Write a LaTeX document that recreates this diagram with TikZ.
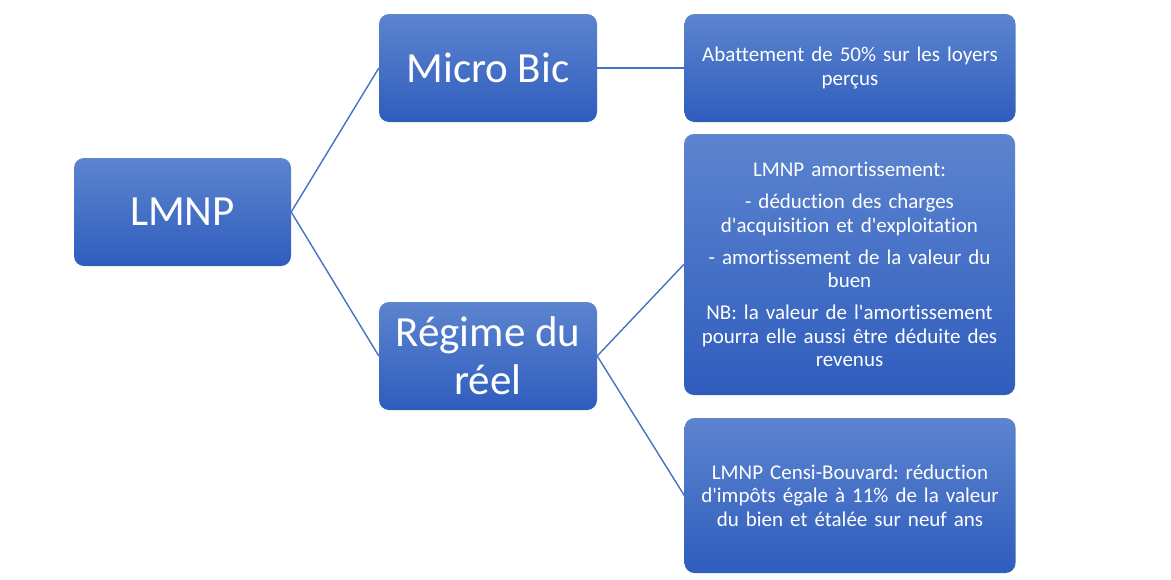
\documentclass[tikz,border=0pt]{standalone}
\usepackage{fontspec}
\newfontfamily\calib{Carlito}[Ligatures=NoCommon]
\frenchspacing
\definecolor{boxtop}{RGB}{92,132,207}
\definecolor{boxbot}{RGB}{47,93,189}
\definecolor{linkc}{RGB}{68,114,196}
\tikzset{
  box/.style={rounded corners=10pt, top color=boxtop, bottom color=boxbot, draw=none,
    text=white, align=center, inner sep=0pt},
  bigbox/.style={box, minimum width=218pt, minimum height=108pt,
    font=\calib\fontsize{43}{48}\selectfont},
  smallbox/.style={box, minimum width=331pt, text width=320pt,
    font=\calib\fontsize{21}{23.5}\selectfont},
  link/.style={draw=linkc, line width=1.4pt}
}
\begin{document}
\begin{tikzpicture}[x=1pt,y=-1pt]
\useasboundingbox (0,0) rectangle (1171,579);
\node[bigbox, minimum width=217pt] (lmnp) at (182.5,212) {LMNP};
\node[bigbox] (micro) at (488,68) {Micro Bic};
\node[bigbox] (reel) at (488,356) {Régime du\\réel};
\node[smallbox, minimum height=108pt] (abat) at (850,68) {Abattement de 50\% sur les loyers\\perçus};
\node[smallbox, minimum height=261pt] (amort) at (849.5,264.5) {LMNP amortissement:\\[8.5pt]
- déduction des charges\\d'acquisition et d'exploitation\\[8.5pt]
- amortissement de la valeur du\\buen\\[8.5pt]
NB: la valeur de l'amortissement\\pourra elle aussi être déduite des\\revenus};
\node[smallbox, minimum height=155pt] (censi) at (850,495.5) {LMNP Censi-Bouvard: réduction\\d'impôts égale à 11\% de la valeur\\du bien et étalée sur neuf ans};
\draw[link] (lmnp.east) -- (micro.west);
\draw[link] (lmnp.east) -- (reel.west);
\draw[link] (micro.east) -- (abat.west);
\draw[link] (reel.east) -- (amort.west);
\draw[link] (reel.east) -- (censi.west);
\end{tikzpicture}
\end{document}
